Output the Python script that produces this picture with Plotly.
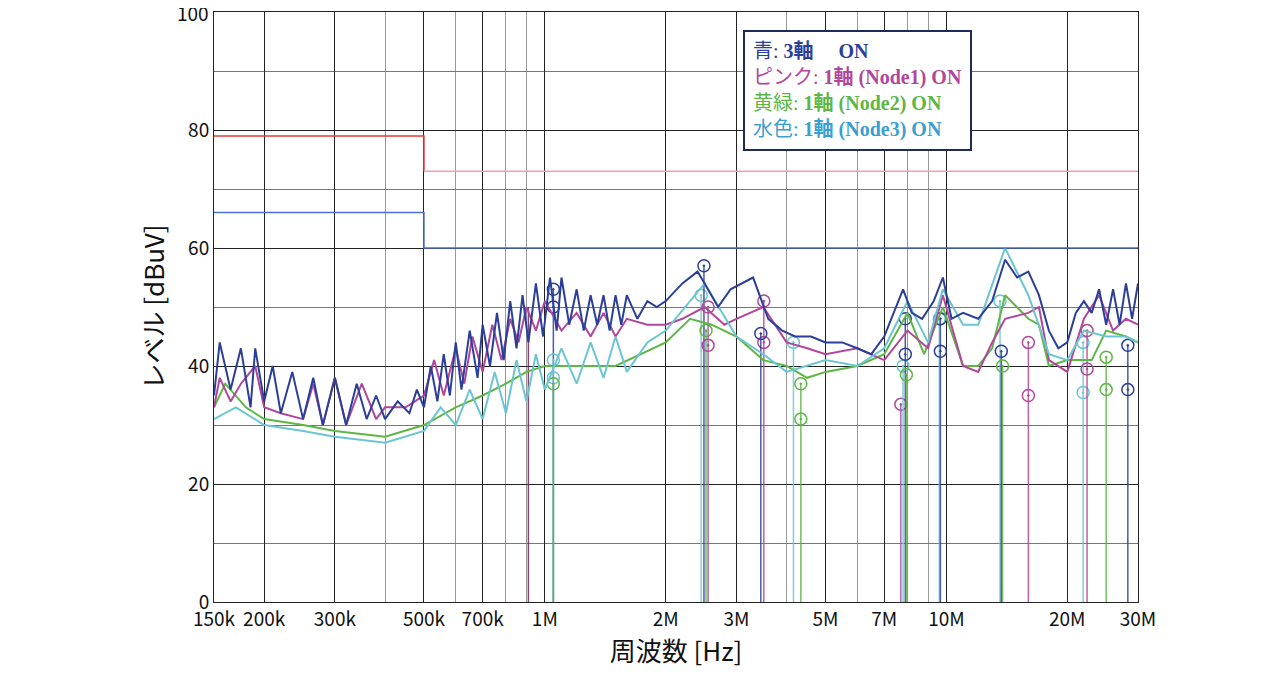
import plotly.graph_objects as go

NAVY = "#2b3f99"
PINK = "#b0479b"
GREEN = "#5db645"
CYAN = "#6cc5d2"

# frequencies in MHz, levels in dBuV
blue_f = [0.15, 0.155, 0.165, 0.175, 0.185, 0.19, 0.2, 0.21, 0.22, 0.235, 0.25, 0.265, 0.28, 0.3,
          0.32, 0.34, 0.36, 0.38, 0.4, 0.43, 0.46, 0.48, 0.5, 0.52, 0.54, 0.56, 0.58, 0.6, 0.62,
          0.65, 0.68, 0.7, 0.73, 0.76, 0.79, 0.82, 0.85, 0.88, 0.91, 0.95, 0.99, 1.03, 1.07, 1.1,
          1.15, 1.2, 1.25, 1.3, 1.35, 1.4, 1.45, 1.5, 1.55, 1.6, 1.7, 1.8, 1.9, 2.0, 2.2, 2.4, 2.5,
          2.7, 2.9, 3.1, 3.3, 3.6, 3.9, 4.2, 4.6, 5.0, 5.5, 6.0, 6.5, 7.0, 7.5, 7.8, 8.2, 8.7, 9.3,
          9.8, 10.3, 11, 12, 13, 14, 15, 16, 17, 18, 19, 20, 21, 22, 23, 24, 25, 26, 27, 28, 29, 30]
blue_v = [35, 44, 36, 43, 33, 43, 34, 40, 32, 39, 31, 38, 30, 38,
          30, 37, 31, 35, 31, 34, 32, 36, 33, 40, 34, 42, 35, 44, 36,
          46, 38, 47, 40, 49, 41, 51, 43, 52, 44, 54, 45, 55, 46, 55,
          47, 53, 46, 52, 47, 52, 46, 52, 47, 52, 48, 51, 50, 51, 54, 56, 54,
          50, 53, 54, 55, 48, 46, 45, 45, 44, 44, 43, 42, 45, 50, 53, 49, 48, 51,
          55, 48, 49, 48, 51, 58, 55, 56, 52, 46, 43, 44, 49, 51, 49, 53, 47, 53, 47, 54, 48, 54]

pink_f = [0.15, 0.155, 0.165, 0.175, 0.19, 0.2, 0.22, 0.25, 0.265, 0.28, 0.3, 0.32, 0.35, 0.38, 0.4,
          0.45, 0.5, 0.53, 0.56, 0.6, 0.63, 0.66, 0.7, 0.74, 0.78, 0.82, 0.86, 0.9, 0.95, 1.0,
          1.1, 1.2, 1.3, 1.4, 1.5, 1.6, 1.8, 2.0, 2.2, 2.5, 2.8, 3.0, 3.5, 4.0, 4.5, 5.0, 6.0,
          7.0, 8.0, 9.0, 9.8, 11, 12, 13, 14, 16, 17, 18, 20, 22, 24, 26, 28, 30]
pink_v = [33, 38, 34, 37, 40, 33, 32, 31, 37, 30, 38, 30, 37, 31, 33,
          33, 35, 41, 35, 43, 37, 45, 39, 47, 41, 48, 44, 50, 46, 51,
          46, 49, 45, 49, 45, 48, 47, 47, 48, 50, 47, 48, 50, 44, 43, 42, 43,
          41, 46, 43, 52, 40, 39, 44, 48, 49, 50, 41, 39, 48, 52, 46, 48, 47]

green_f = [0.15, 0.16, 0.18, 0.2, 0.25, 0.3, 0.4, 0.5, 0.6, 0.7, 0.8, 0.9, 1.0, 1.2, 1.5, 2.0,
           2.3, 2.6, 3.0, 3.5, 4.0, 4.5, 5.0, 6.0, 7.0, 8.0, 8.8, 9.8, 11, 12, 13, 14, 16, 17,
           18, 20, 23, 25, 28, 30]
green_v = [33, 37, 33, 31, 30, 29, 28, 30, 33, 35, 37, 39, 40, 40, 40, 44,
           48, 47, 45, 41, 40, 38, 39, 40, 42, 49, 42, 50, 40, 40, 43, 52, 48, 47,
           40, 41, 41, 46, 45, 44]

cyan_f = [0.15, 0.17, 0.2, 0.25, 0.3, 0.4, 0.5, 0.55, 0.6, 0.65, 0.7, 0.75, 0.8, 0.85, 0.9,
          0.95, 1.0, 1.1, 1.2, 1.3, 1.4, 1.5, 1.6, 1.8, 2.0, 2.5, 3.0, 3.5, 4.0, 5.0, 6.0, 7.0,
          8.0, 9.0, 9.8, 11, 12, 14, 16, 18, 20, 22, 25, 28, 30]
cyan_v = [31, 33, 30, 29, 28, 27, 29, 33, 30, 36, 31, 39, 32, 41, 34,
          42, 36, 43, 37, 44, 38, 45, 39, 44, 46, 54, 45, 42, 39, 41, 40, 43,
          51, 44, 53, 47, 47, 60, 52, 42, 41, 46, 45, 45, 44]

# peak markers: (frequency MHz, levels, colour)
marks = [
    (0.91, [], "#6b2a5a"),
    (1.05, [53, 50], NAVY), (1.05, [41, 38], CYAN), (1.05, [37], GREEN),
    (2.45, [52], CYAN), (2.49, [57], NAVY), (2.52, [46], GREEN), (2.55, [50, 43.5], PINK),
    (3.51, [51, 44], PINK), (3.45, [45.5], NAVY),
    (4.16, [44], CYAN), (4.34, [37, 31], GREEN),
    (7.7, [33.5], PINK), (7.8, [40], CYAN), (7.9, [48, 42], NAVY), (7.95, [38.5], GREEN),
    (9.6, [48], CYAN), (9.66, [48, 42.5], NAVY),
    (13.6, [51], CYAN), (13.7, [42.5], NAVY), (13.8, [40], GREEN),
    (16.0, [44, 35], PINK),
    (21.9, [44, 35.5], CYAN), (22.4, [46, 39.5], PINK),
    (25.0, [41.5, 36], GREEN),
    (28.3, [43.5, 36], NAVY),
]

x_ticks = [0.15, 0.2, 0.3, 0.5, 0.7, 1, 2, 3, 5, 7, 10, 20, 30]
x_labels = ["150k", "200k", "300k", "500k", "700k", "1M", "2M", "3M", "5M", "7M", "10M", "20M", "30M"]
x_minor = [0.4, 0.6, 0.8, 0.9, 4, 6, 8, 9]
y_ticks = [0, 20, 40, 60, 80]
y_top = 100

fig = go.Figure()

for f, levels, col in marks:
    top = max(levels) if levels else 50
    fig.add_trace(go.Scatter(x=[f, f], y=[0, top], mode="lines",
                             line=dict(color=col, width=1.5), opacity=0.85,
                             showlegend=False, hoverinfo="skip"))
    if levels:
        fig.add_trace(go.Scatter(x=[f] * len(levels), y=levels, mode="markers",
                                 marker=dict(symbol="circle-open-dot", size=12, color=col,
                                             line=dict(width=1.5)),
                                 showlegend=False, hoverinfo="skip"))

for fx, vy, col in [(green_f, green_v, GREEN), (pink_f, pink_v, PINK),
                    (cyan_f, cyan_v, CYAN), (blue_f, blue_v, NAVY)]:
    fig.add_trace(go.Scatter(x=fx, y=vy, mode="lines", line=dict(color=col, width=2),
                             showlegend=False))

# limit lines
fig.add_trace(go.Scatter(x=[0.15, 0.5, 0.5], y=[79, 79, 73], mode="lines",
                         line=dict(color="#e83a3a", width=1.5), showlegend=False))
fig.add_trace(go.Scatter(x=[0.5, 30], y=[73, 73], mode="lines",
                         line=dict(color="#f2a0a8", width=1.5), showlegend=False))
fig.add_trace(go.Scatter(x=[0.15, 0.5, 0.5, 30], y=[66, 66, 60, 60], mode="lines",
                         line=dict(color="#4a6fc8", width=1.5), showlegend=False))

legend_html = (f"<span style='color:{NAVY}'>青: <b>3軸　 ON</b></span><br>"
               f"<span style='color:{PINK}'>ピンク: <b>1軸 (Node1) ON</b></span><br>"
               f"<span style='color:{GREEN}'>黄緑: <b>1軸 (Node2) ON</b></span><br>"
               f"<span style='color:#3a9fd0'>水色: <b>1軸 (Node3) ON</b></span>")
fig.add_annotation(x=0.572, y=0.97, xref="paper", yref="paper", xanchor="left", yanchor="top",
                   text=legend_html, showarrow=False, align="left",
                   font=dict(family="Liberation Serif, Noto Sans CJK JP", size=20),
                   bgcolor="white", bordercolor="#1e2a5a", borderwidth=2, borderpad=8)

# top tick label (clipped by the tiny top margin otherwise)
fig.add_annotation(x=0, xref="paper", y=y_top, yref="y", xanchor="right", xshift=-3,
                   text=str(y_top), showarrow=False, font=dict(size=19, color="#111"))

fig.update_layout(
    width=1284, height=696, paper_bgcolor="white", plot_bgcolor="white",
    margin=dict(l=206, r=154, t=4, b=102),
    font=dict(family="Noto Sans CJK JP, Liberation Sans", color="#111", size=19),
    xaxis=dict(type="log", range=[0.176091 - 1, 1.477121], tickvals=x_ticks, ticktext=x_labels,
               showgrid=True, gridcolor="#222", gridwidth=1.2, linecolor="#222", mirror=True,
               zeroline=False, ticks="",
               minor=dict(tickvals=x_minor, showgrid=True, gridcolor="#999", gridwidth=1),
               title=dict(text="周波数 [Hz]", font=dict(size=26), standoff=10)),
    yaxis=dict(range=[0, y_top], tickvals=y_ticks,
               showgrid=True, gridcolor="#222", gridwidth=1.2, linecolor="#222", mirror=True,
               zeroline=False, ticks="",
               minor=dict(tickvals=[10, 30, 50, 70, 90], showgrid=True, gridcolor="#777"),
               title=dict(text="レベル [dBuV]", font=dict(size=26), standoff=16)),
)

fig.write_html("out.html")
